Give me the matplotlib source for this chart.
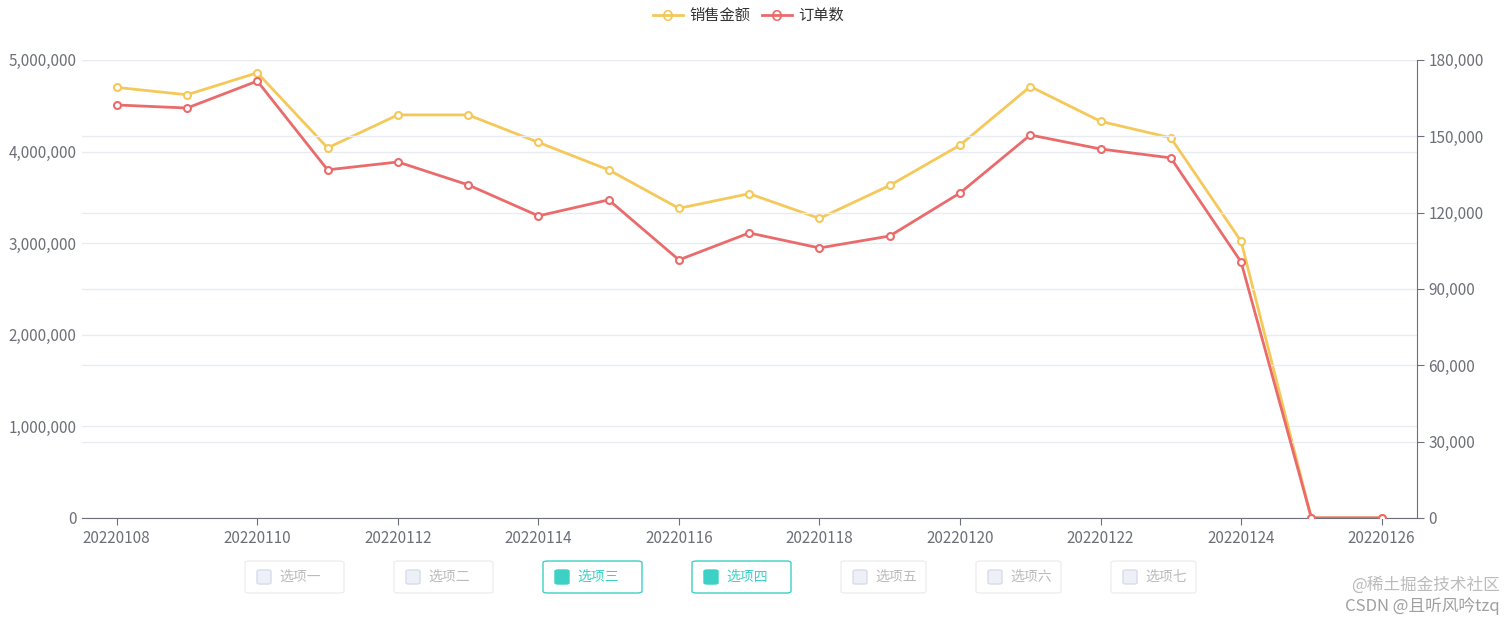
import matplotlib
matplotlib.use('Agg')
import matplotlib.pyplot as plt
from matplotlib.patches import FancyBboxPatch
import numpy as np

plt.rcParams['font.family'] = ['Noto Sans CJK SC', 'DejaVu Sans']

dates = [str(20220108 + i) for i in range(19)]
amount = [4700000, 4620000, 4860000, 4040000, 4400000, 4400000, 4100000, 3800000,
          3380000, 3540000, 3270000, 3630000, 4070000, 4710000, 4330000, 4150000,
          3020000, 0, 0]
orders = [162300, 161100, 171700, 136800, 139900, 130900, 118700, 125000,
          101400, 112000, 106100, 110800, 127700, 150500, 145000, 141500,
          100600, 0, 0]
labels = ['销售金额', '订单数']
buttons = ['选项一', '选项二', '选项三', '选项四', '选项五', '选项六', '选项七']
checked = [False, False, True, True, False, False, False]

yellow = '#f5c85a'
red = '#ea6b6b'
grid = '#e8ecf0'
txt = '#6e7079'

fig = plt.figure(figsize=(15.12, 6.18), dpi=100)
ax = fig.add_axes([0.054, 0.162, 0.883, 0.741])
ax2 = ax.twinx()

x = np.arange(len(dates))
ax.plot(x, amount, color=yellow, lw=2, marker='o', ms=5, mfc='white', mew=1.5, zorder=3)
ax2.plot(x, orders, color=red, lw=2, marker='o', ms=5, mfc='white', mew=1.5, zorder=3)

ax.set_xlim(-0.5, len(dates) - 0.5)
ax.set_ylim(0, 5000000)
ax2.set_ylim(0, 180000)
ax.set_yticks(np.arange(0, 5000001, 1000000))
ax2.set_yticks(np.arange(0, 180001, 30000))
ax.set_yticklabels([f'{v:,}' for v in ax.get_yticks().astype(int)])
ax2.set_yticklabels([f'{v:,}' for v in ax2.get_yticks().astype(int)])
ax.set_xticks(x[::2])
ax.set_xticklabels(dates[::2])

for a in (ax, ax2):
    a.grid(axis='y', color=grid, lw=1)
    a.set_axisbelow(True)
    a.tick_params(colors=txt, labelsize=11, length=0)
    for s in a.spines.values():
        s.set_visible(False)
ax.tick_params(axis='x', length=5, color=txt)
ax.spines['bottom'].set_visible(True)
ax.spines['bottom'].set_color(txt)
ax2.spines['right'].set_visible(True)
ax2.spines['right'].set_color(txt)
ax2.tick_params(axis='y', length=5, color=txt)

# legend
for i, (lab, c) in enumerate(zip(labels, [yellow, red])):
    lx = 0.432 + i * 0.072
    fig.lines.append(plt.Line2D([lx, lx + 0.02], [0.975, 0.975], color=c, lw=2, transform=fig.transFigure))
    fig.patches.append(plt.Circle((lx + 0.01, 0.975), 0.0, transform=fig.transFigure))
    fig.text(lx + 0.01, 0.975, 'o', color=c, ha='center', va='center', fontsize=14, family='DejaVu Sans')
    fig.text(lx + 0.024, 0.975, lab, color='#333333', ha='left', va='center', fontsize=11)

# bottom buttons
starts = [245, 394, 543, 692, 841, 976, 1111]
widths = [99, 99, 99, 99, 85, 85, 85]
for s, w, b, ck in zip(starts, widths, buttons, checked):
    ec = '#3dd1c5' if ck else '#eeeeee'
    fig.patches.append(FancyBboxPatch((s / 1512, 25 / 618), w / 1512, 32 / 618,
                                      boxstyle='round,pad=0,rounding_size=0.003',
                                      fc='white', ec=ec, lw=1, transform=fig.transFigure))
    fig.patches.append(FancyBboxPatch(((s + 12) / 1512, 34 / 618), 14 / 1512, 14 / 618,
                                      boxstyle='round,pad=0,rounding_size=0.002',
                                      fc='#3dd1c5' if ck else '#eef0f8',
                                      ec='#3dd1c5' if ck else '#d8dcec', lw=1,
                                      transform=fig.transFigure))
    fig.text((s + 34) / 1512, 41 / 618, b, color='#3dd1c5' if ck else '#bbbbbb',
             ha='left', va='center', fontsize=10)

fig.text(0.992, 0.045, '@稀土掘金技术社区', color='#aaaaaa', ha='right', fontsize=12, alpha=0.8)
fig.text(0.992, 0.012, 'CSDN @且听风吟tzq', color='#888888', ha='right', fontsize=12, alpha=0.8)

fig.savefig('out.png', dpi=100)
